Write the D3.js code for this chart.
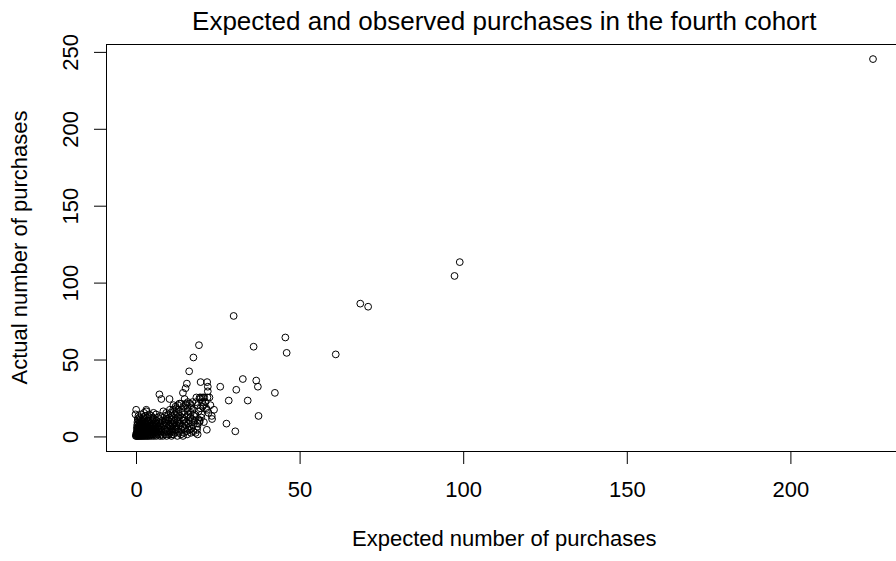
<!DOCTYPE html>
<html>
<head>
<meta charset="utf-8">
<script src="https://cdn.jsdelivr.net/npm/d3@7"></script>
<style>
  html, body { margin: 0; padding: 0; background: #fff; }
  svg { display: block; }
  text { font-family: "Liberation Sans", Arial, sans-serif; fill: #000; }
</style>
</head>
<body>
<div id="chart"></div>
<script>
const title = "Expected and observed purchases in the fourth cohort";
const xLabel = "Expected number of purchases";
const yLabel = "Actual number of purchases";
const xTicks = [0, 50, 100, 150, 200];
const yTicks = [0, 50, 100, 150, 200, 250];

// Dense cluster near origin: actual (integer) -> expected values
const clusterRows = [
  [0,  [0.1,0.3,0.5,0.8,1.0,1.3,1.6,1.9,2.2,2.6,3.0,3.4,3.8,4.3,4.9,5.6,6.4,7.5,8.3,9.5,11.0,12.8,14.5]],
  [1,  [0.2,0.4,0.7,0.9,1.2,1.5,1.8,2.1,2.5,2.9,3.3,3.7,4.2,4.7,5.3,6.0,6.8,7.9,9.1,10.2,11.6,13.9,15.8]],
  [2,  [0.3,0.6,1.0,1.4,1.7,2.0,2.4,2.8,3.2,3.6,4.1,4.6,5.2,5.9,6.7,7.6,8.8,10.5,12.0,14.8,16.9]],
  [3,  [0.5,0.8,1.2,1.6,2.0,2.3,2.7,3.1,3.5,4.0,4.5,5.1,5.7,6.4,7.2,8.1,9.4,10.4,11.2,13.1,15.6]],
  [4,  [0.6,1.1,1.5,1.9,2.3,2.8,3.3,3.9,4.4,5.0,5.6,6.3,7.0,7.9,9.0,10.9,12.1,14.0,16.0,18.8]],
  [5,  [0.4,0.9,1.4,1.9,2.4,2.9,3.5,4.1,4.8,5.5,6.2,7.1,8.0,9.7,11.3,13.0,17.2]],
  [6,  [0.7,1.2,1.8,2.4,3.0,3.7,4.4,5.2,6.0,6.9,7.8,10.8,12.2,14.4,16.5]],
  [7,  [0.5,1.1,1.7,2.3,3.0,3.8,4.6,5.4,6.3,7.4,8.6,10.2,11.5,12.6,15.3,17.6]],
  [8,  [0.8,1.5,2.2,2.9,3.7,4.5,5.4,6.5,7.7,9.3,11.4,13.4,14.9,19.0]],
  [9,  [0.6,1.3,2.1,3.0,3.9,4.9,6.1,7.3,8.9,10.6,12.8,15.5,17.0]],
  [10, [1.0,1.9,2.8,3.8,5.0,6.4,8.1,10.1,11.9,13.3,16.4]],
  [11, [0.7,1.6,2.7,4.0,5.6,7.2,9.5,9.9,12.4,14.9,19.2]],
  [12, [1.2,2.4,3.6,5.3,6.9,10.3,14.3,16.8]],
  [13, [0.9,2.9,4.8,7.6,11.2,13.6,17.9]],
  [14, [0.0,1.8,4.2,6.3,10.0,15.0,20.2]],
  [15, [2.6,5.5,9.4,12.6,16.9]],
  [16, [3.3,11.8,14.8]],
  [17, [0.2,3.3,10.5,13.2]],
  [18, [12.5,15.9,19.8]],
  [19, [14.6]],
  [20, [11.6,20.8]],
  [21, [13.4]],
  [22, [17.4,20.4]]
];

// Mid-range scattered points [expected, actual]
const midPoints = [
  [9.8,3],[10.5,6],[11.2,1],[11.8,9],[12.4,4],[12.9,12],[13.3,2],[13.8,7],[14.2,15],[14.6,10],
  [15.1,5],[15.4,20],[15.8,13],[16.2,8],[16.6,21],[17.0,18],[17.3,11],[17.7,3],[18.1,14],[18.5,22],
  [18.9,6],[19.3,16],[19.7,24],[20.1,12],[20.5,19],[20.9,9],[21.4,22],[21.8,4],[22.3,15],[22.9,20],
  [23.4,11],[24.0,17],[13.0,20],[14.0,21],[16.0,22],[17.0,20],[18.0,10],[19.0,20],[20.0,25],[21.0,25],
  [22.0,25],[12.0,14],[11.0,11],[10.0,8],[9.0,13],[10.8,15],[11.5,17],[12.2,19],[8.5,16],[9.3,10]
];

// Individually read points [expected, actual]
const readPoints = [
  [7.3,27],[7.9,24],[10.4,24],[14.5,28],[15.0,24],[15.5,21],[15.7,34],[15.3,31],[16.4,42],[17.7,51],
  [19.4,59],[19.9,35],[21.9,35],[22.1,32],[22.1,29],[25.9,32],[30.8,30],[32.8,37],[36.9,36],[37.4,32],
  [42.6,28],[28.5,23],[34.3,23],[37.6,13],[27.8,8],[30.5,3],[18.4,2],[19.0,1],[23.3,13],[21.6,18],
  [21.9,17],[17.5,17],[16.0,16],[22.6,25],[19.6,25],[20.6,25],[18.6,25],[19.6,10],[19.6,9],[16.5,4],
  [30.0,78],[36.1,58],[45.8,64],[46.2,54],[61.2,53],[68.7,86],[71.1,84],[97.5,104],[99.1,113],[225.4,245]
];

(function () {
const W = 896, H = 561;
const svg = d3.select("#chart").append("svg").attr("width", W).attr("height", H);
svg.append("rect").attr("width", W).attr("height", H).attr("fill", "#fff");

const points = [];
clusterRows.forEach(([yv, xs]) => xs.forEach(xv => points.push([xv, yv])));
midPoints.forEach(p => points.push(p));
readPoints.forEach(p => points.push(p));

// R-style 4% axis extension
const xmin = d3.min(points, d => d[0]), xmax = d3.max(points, d => d[0]);
const ymin = d3.min(points, d => d[1]), ymax = d3.max(points, d => d[1]);
const xe = (xmax - xmin) * 0.04, ye = (ymax - ymin) * 0.04;

const pL = 106, pT = 44, pB = 451, pR = 902.5;
const x = d3.scaleLinear().domain([xmin - xe, xmax + xe]).range([pL, pR]);
const y = d3.scaleLinear().domain([ymin - ye, ymax + ye]).range([pB, pT]);

const lineH = 25;
const tickLen = 12.5;

// points
svg.append("g").selectAll("circle").data(points).join("circle")
  .attr("cx", d => x(d[0])).attr("cy", d => y(d[1])).attr("r", 3.4)
  .attr("fill", "none").attr("stroke", "#000").attr("stroke-width", 1);

// box
svg.append("rect").attr("x", pL + 0.5).attr("y", pT + 0.5)
  .attr("width", pR - pL).attr("height", pB - pT)
  .attr("fill", "none").attr("stroke", "#000").attr("stroke-width", 1);

// x axis
const xAxis = d3.axisBottom(x).tickValues(xTicks).tickSize(tickLen).tickFormat(d3.format("d"));
const gx = svg.append("g").attr("transform", `translate(0.5,${pB + 0.5})`).call(xAxis);
gx.select(".domain").attr("d", `M${x(xTicks[0])},0H${x(xTicks[xTicks.length-1])}`).attr("stroke", "#000");
gx.selectAll(".tick line").attr("stroke", "#000");
gx.selectAll(".tick text").attr("y", 1.8 * lineH).attr("dy", 0)
  .attr("font-size", 22).attr("font-family", "Liberation Sans, Arial, sans-serif").attr("fill", "#000");

// y axis
const yAxis = d3.axisLeft(y).tickValues(yTicks).tickSize(tickLen).tickFormat(d3.format("d"));
const gy = svg.append("g").attr("transform", `translate(${pL + 0.5},0.5)`).call(yAxis);
gy.select(".domain").attr("d", `M0,${y(yTicks[0])}V${y(yTicks[yTicks.length-1])}`).attr("stroke", "#000");
gy.selectAll(".tick line").attr("stroke", "#000");
gy.selectAll(".tick text")
  .attr("x", null).attr("dy", null)
  .attr("transform", `translate(${-1.15 * lineH},0) rotate(-90)`)
  .attr("text-anchor", "middle").attr("font-size", 22)
  .attr("font-family", "Liberation Sans, Arial, sans-serif").attr("fill", "#000");

// titles
const cx = (pL + pR) / 2;
svg.append("text").attr("x", cx).attr("y", 30).attr("text-anchor", "middle")
  .attr("font-size", 26).text(title);
svg.append("text").attr("x", cx).attr("y", pB + 3.8 * lineH).attr("text-anchor", "middle")
  .attr("font-size", 22).text(xLabel);
svg.append("text").attr("transform", `translate(${pL - 3.15 * lineH},${(pT + pB) / 2}) rotate(-90)`)
  .attr("text-anchor", "middle").attr("font-size", 22).text(yLabel);
})();
</script>
</body>
</html>
